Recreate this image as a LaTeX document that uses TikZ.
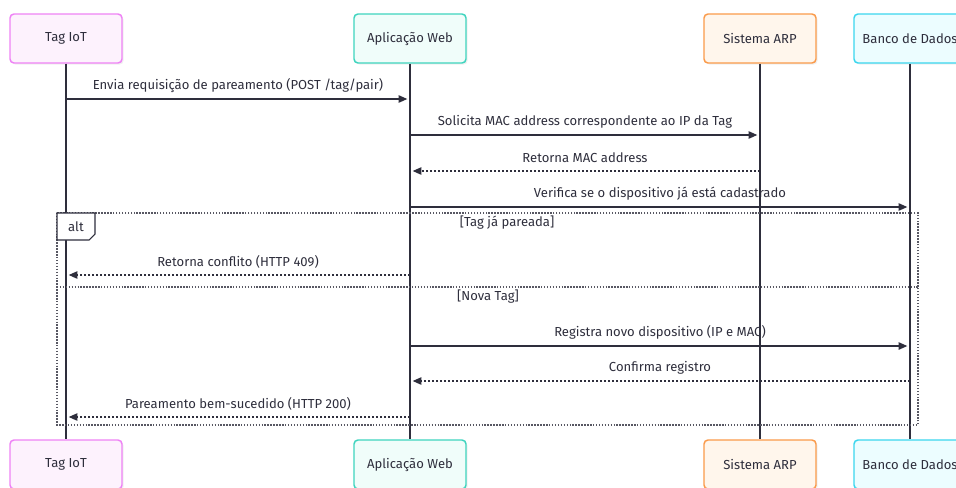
\documentclass[tikz,border=0pt]{standalone}
\usepackage{fontspec}
\setmainfont{Fira Sans}
\usetikzlibrary{arrows.meta,shadows}

\definecolor{ink}{HTML}{2E2E3C}
\definecolor{tagfill}{HTML}{FDF2FD}
\definecolor{tagdraw}{HTML}{EE82F5}
\definecolor{webfill}{HTML}{F0FDFA}
\definecolor{webdraw}{HTML}{3ED4BE}
\definecolor{arpfill}{HTML}{FFF6EC}
\definecolor{arpdraw}{HTML}{FA9A4A}
\definecolor{dbfill}{HTML}{ECFDFF}
\definecolor{dbdraw}{HTML}{3AD6EE}

\begin{document}
\begin{tikzpicture}[x=0.75pt,y=-0.75pt,
  font=\fontsize{9.8}{11.5}\selectfont, text=ink,
  actor/.style={draw, rounded corners=3pt, line width=1.1pt,
    minimum width=84pt, minimum height=36.75pt, inner sep=0pt,
    drop shadow={shadow xshift=1.2pt, shadow yshift=-1.2pt, opacity=0.12}},
  lifeline/.style={draw=ink, line width=1.1pt},
  msg/.style={draw=ink, line width=1pt, -{Triangle[length=6.5pt,width=5.5pt]}, shorten >=2pt},
  reply/.style={msg, dash pattern=on 1.6pt off 1.4pt},
  frame/.style={draw=ink!80, line width=0.9pt, dash pattern=on 1.1pt off 1.1pt},
  msglabel/.style={midway, yshift=10pt, inner sep=0pt}
]
\useasboundingbox (0,0) rectangle (956,487);
\clip (0,0) rectangle (956,487);

% participants, top row
\node[actor, fill=tagfill, draw=tagdraw] (tagtop) at (66,38.5) {Tag IoT};
\node[actor, fill=webfill, draw=webdraw] (webtop) at (410,38.5) {Aplicação Web};
\node[actor, fill=arpfill, draw=arpdraw] (arptop) at (760,38.5) {Sistema ARP};
\node[actor, fill=dbfill, draw=dbdraw] (dbtop) at (910,38.5) {Banco de Dados};

% participants, bottom row
\node[actor, fill=tagfill, draw=tagdraw] (tagbot) at (66,464.5) {Tag IoT};
\node[actor, fill=webfill, draw=webdraw] (webbot) at (410,464.5) {Aplicação Web};
\node[actor, fill=arpfill, draw=arpdraw] (arpbot) at (760,464.5) {Sistema ARP};
\node[actor, fill=dbfill, draw=dbdraw] (dbbot) at (910,464.5) {Banco de Dados};

% lifelines
\draw[lifeline] (tagtop.south) -- (tagbot.north);
\draw[lifeline] (webtop.south) -- (webbot.north);
\draw[lifeline] (arptop.south) -- (arpbot.north);
\draw[lifeline] (dbtop.south) -- (dbbot.north);

% message rows
\coordinate (r1) at (0,99);
\coordinate (r2) at (0,135);
\coordinate (r3) at (0,171);
\coordinate (r4) at (0,207);
\coordinate (r5) at (0,275);
\coordinate (r6) at (0,346);
\coordinate (r7) at (0,381);
\coordinate (r8) at (0,417);

\draw[msg] (tagtop |- r1) -- (webtop |- r1)
  node[msglabel] {Envia requisição de pareamento (POST /tag/pair)};
\draw[msg] (webtop |- r2) -- (arptop |- r2)
  node[msglabel] {Solicita MAC address correspondente ao IP da Tag};
\draw[reply] (arptop |- r3) -- (webtop |- r3)
  node[msglabel] {Retorna MAC address};
\draw[msg] (webtop |- r4) -- (dbtop |- r4)
  node[msglabel] {Verifica se o dispositivo já está cadastrado};

% alt fragment
\coordinate (altnw) at (57,213);
\coordinate (altse) at (918,425);
\coordinate (altsepw) at (57,287);
\coordinate (altsepe) at (918,287);
\draw[frame] (altnw) rectangle (altse);
\draw[frame] (altsepw) -- (altsepe);
\draw[draw=ink, line width=0.8pt, fill=white]
  (57,213) -- (95,213) -- (95,234) -- (89,240) -- (57,240) -- cycle;
\node[inner sep=0pt] (altlabel) at (76,227) {alt};
\node[inner sep=0pt] (cond1) at (507,223) {[Tag já pareada]};
\node[inner sep=0pt] (cond2) at (488,297) {[Nova Tag]};

\draw[reply] (webtop |- r5) -- (tagtop |- r5)
  node[msglabel] {Retorna conflito (HTTP 409)};
\draw[msg] (webtop |- r6) -- (dbtop |- r6)
  node[msglabel] {Registra novo dispositivo (IP e MAC)};
\draw[reply] (dbtop |- r7) -- (webtop |- r7)
  node[msglabel] {Confirma registro};
\draw[reply] (webtop |- r8) -- (tagtop |- r8)
  node[msglabel] {Pareamento bem-sucedido (HTTP 200)};
\end{tikzpicture}
\end{document}
